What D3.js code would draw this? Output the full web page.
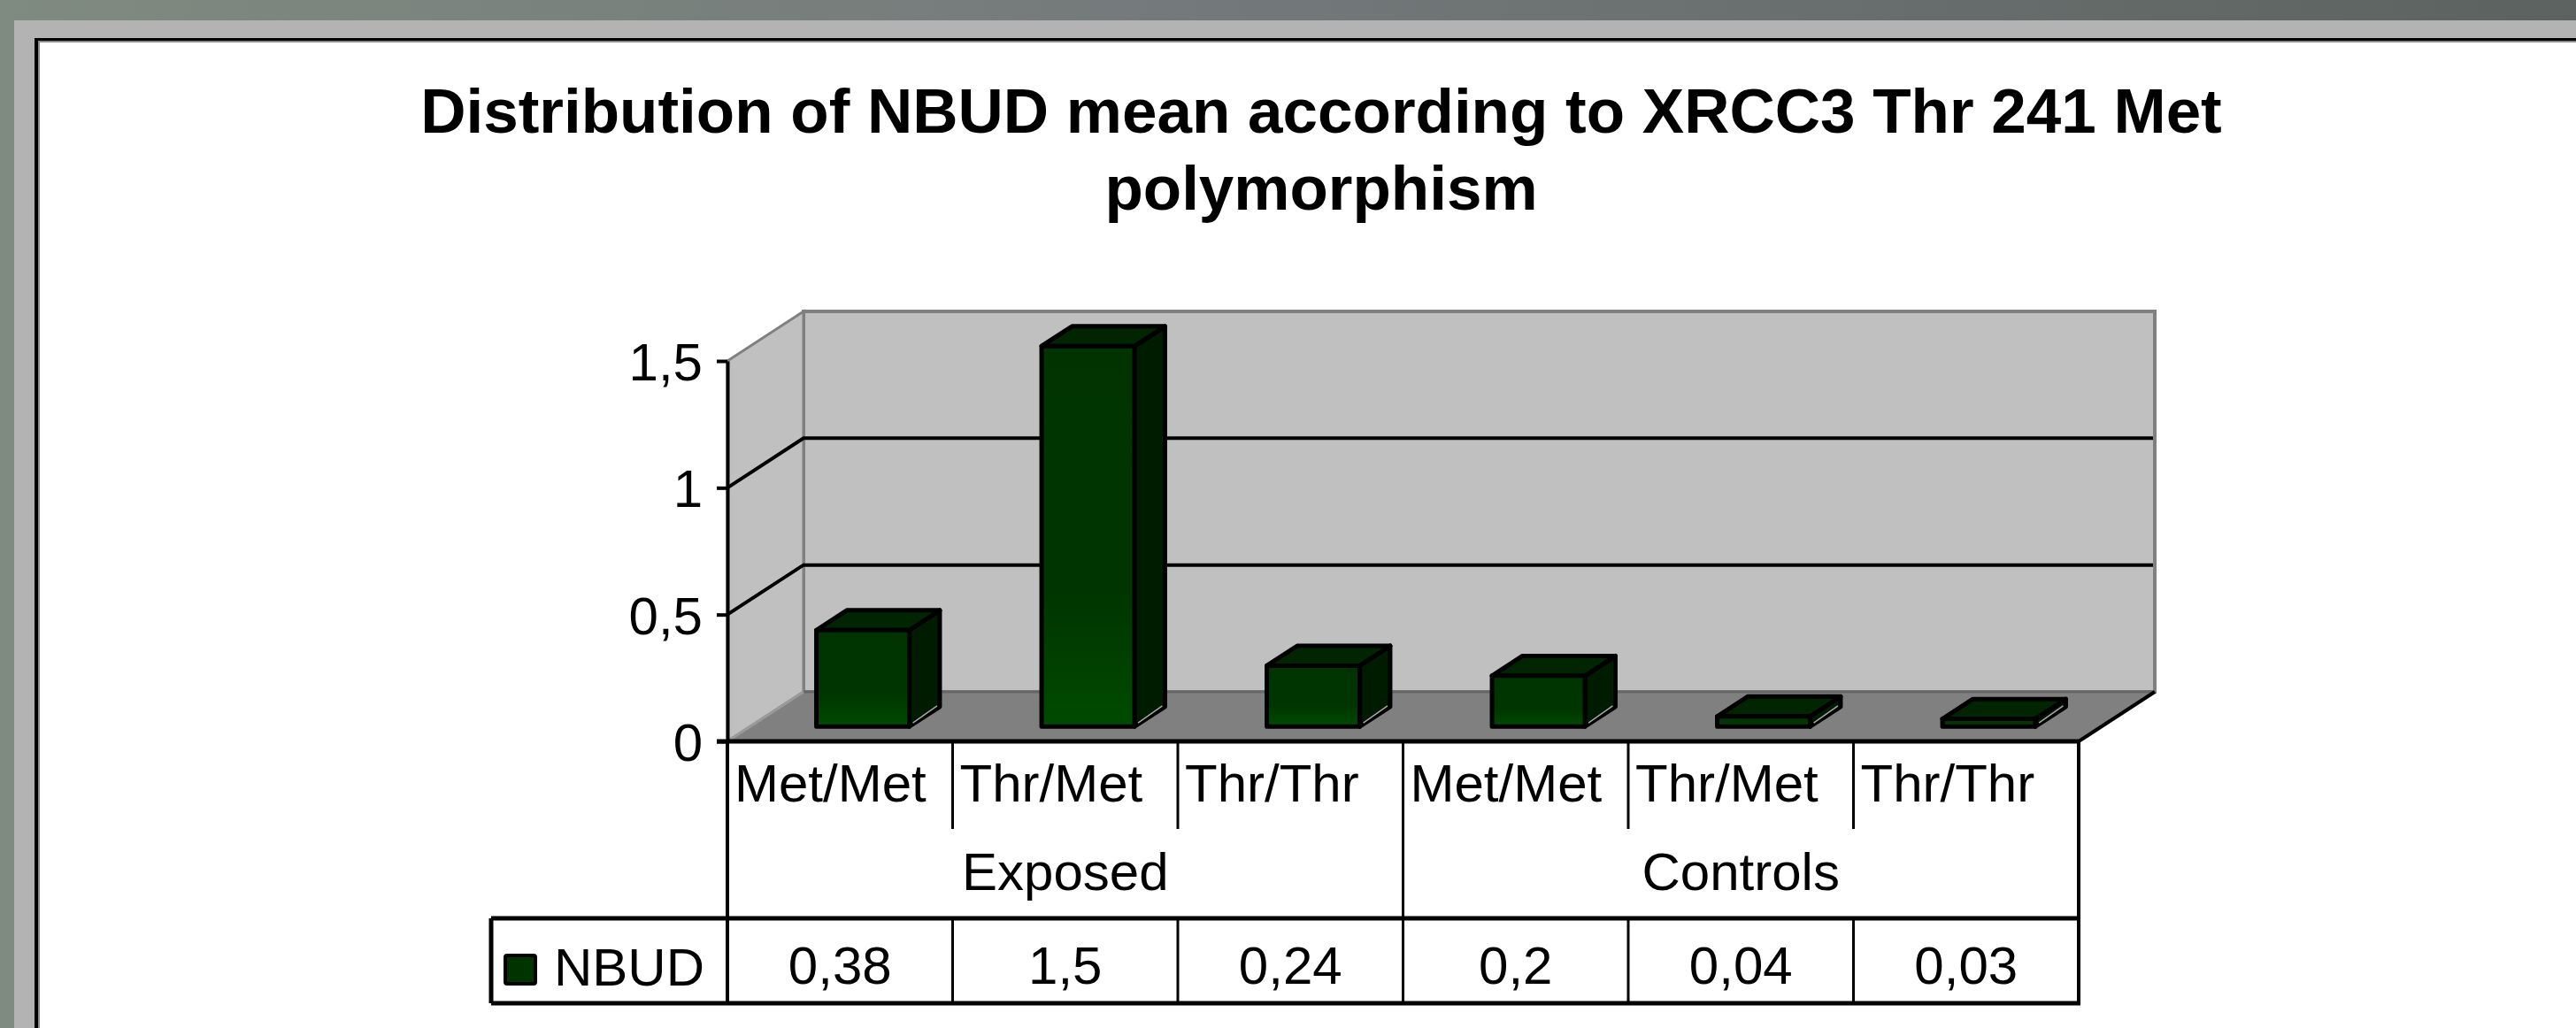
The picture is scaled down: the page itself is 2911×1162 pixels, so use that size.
<!DOCTYPE html>
<html>
<head>
<meta charset="utf-8">
<script src="https://cdn.jsdelivr.net/npm/d3@7"></script>
<style>
  html, body { margin: 0; padding: 0; background: #7f8a80; overflow: hidden; }
  svg { display: block; }
  text { font-family: "Liberation Sans", Arial, sans-serif; fill: #000; }
</style>
</head>
<body>
<svg id="chart"></svg>
<script>
const width = 2911;
const height = 1162;

// data
const categories = ["Met/Met", "Thr/Met", "Thr/Thr", "Met/Met", "Thr/Met", "Thr/Thr"];
const groups = ["Exposed", "Controls"];
const groupOf = [0, 0, 0, 1, 1, 1];
const seriesName = "NBUD";
const values = [0.38, 1.5, 0.24, 0.2, 0.04, 0.03];
const yTicks = [0, 0.5, 1, 1.5];
const titleLines = ["Distribution of NBUD mean according to XRCC3 Thr 241 Met", "polymorphism"];

const svg = d3.select("#chart").attr("width", width).attr("height", height);
const defs = svg.append("defs");

const locale = d3.formatLocale({ decimal: ",", thousands: ".", grouping: [3], currency: ["", ""] });
const fmt = locale.format(".2~f");

// page background (slide frame)
const bgGrad = defs.append("linearGradient").attr("id", "bgGrad")
  .attr("x1", "0%").attr("x2", "100%").attr("y1", "0%").attr("y2", "0%");
bgGrad.append("stop").attr("offset", "0%").attr("stop-color", "#7f8a80");
bgGrad.append("stop").attr("offset", "45%").attr("stop-color", "#747a7b");
bgGrad.append("stop").attr("offset", "100%").attr("stop-color", "#5b625f");
svg.append("rect").attr("width", width).attr("height", height).attr("fill", "url(#bgGrad)");
svg.append("rect").attr("x", 16).attr("y", 23).attr("width", width).attr("height", height).attr("fill", "#b3b3b3");
svg.append("rect").attr("x", 39).attr("y", 43).attr("width", width).attr("height", height).attr("fill", "#000");
svg.append("rect").attr("x", 43).attr("y", 46).attr("width", width).attr("height", height).attr("fill", "#8a8a8a");
svg.append("rect").attr("x", 45).attr("y", 48).attr("width", width).attr("height", height).attr("fill", "#fff");

// title
svg.append("g").selectAll("text")
  .data(titleLines)
  .join("text")
  .attr("x", 1493)
  .attr("y", (d, i) => 150 + i * 87)
  .attr("text-anchor", "middle")
  .attr("font-size", "71px")
  .attr("font-weight", "bold")
  .text(d => d);

// scales
const x = d3.scaleBand().domain(d3.range(categories.length)).range([822, 2349]);
const y = d3.scaleLinear().domain([0, 1.5]).range([838, 408]);
const DX = 86, DY = -56;          // depth of the 3D floor
const zFront = 0.3, zBack = 0.7;  // bar position in depth
const barW = 105;

const plot = svg.append("g");

// back wall + side wall
const x0 = x.range()[0], x1 = x.range()[1];
const yTop = y(1.5), yBase = y(0);
plot.append("rect")
  .attr("x", x0 + DX).attr("y", yTop + DY)
  .attr("width", x1 - x0).attr("height", yBase - yTop)
  .attr("fill", "#c0c0c0").attr("stroke", "#808080").attr("stroke-width", 4);
plot.append("path")
  .attr("d", `M${x0},${yBase}L${x0},${yTop}L${x0 + DX},${yTop + DY}L${x0 + DX},${yBase + DY}Z`)
  .attr("fill", "#c0c0c0").attr("stroke", "#808080").attr("stroke-width", 3);

// gridlines on walls
const grid = yTicks.filter(t => t > 0 && t < 1.5);
plot.append("g").selectAll("path")
  .data(grid)
  .join("path")
  .attr("d", t => `M${x0},${y(t)}L${x0 + DX},${y(t) + DY}L${x1 + DX - 2},${y(t) + DY}`)
  .attr("fill", "none").attr("stroke", "#000").attr("stroke-width", 4);

// floor
plot.append("path")
  .attr("d", `M${x0},${yBase}L${x1},${yBase}L${x1 + DX},${yBase + DY}L${x0 + DX},${yBase + DY}Z`)
  .attr("fill", "#808080");
plot.append("line")
  .attr("x1", x0 + DX).attr("x2", x1 + DX).attr("y1", yBase + DY).attr("y2", yBase + DY)
  .attr("stroke", "#666").attr("stroke-width", 3);
plot.append("line")
  .attr("x1", x0).attr("y1", yBase).attr("x2", x0 + DX).attr("y2", yBase + DY)
  .attr("stroke", "#9a9a9a").attr("stroke-width", 3);
plot.append("line")
  .attr("x1", x1).attr("y1", yBase).attr("x2", x1 + DX).attr("y2", yBase + DY)
  .attr("stroke", "#000").attr("stroke-width", 4);

// bars
const frontGrad = defs.append("linearGradient").attr("id", "frontGrad")
  .attr("x1", "0%").attr("x2", "0%").attr("y1", "0%").attr("y2", "100%");
frontGrad.append("stop").attr("offset", "0%").attr("stop-color", "#003300");
frontGrad.append("stop").attr("offset", "65%").attr("stop-color", "#003500");
frontGrad.append("stop").attr("offset", "100%").attr("stop-color", "#004a00");

const bars = plot.append("g").selectAll("g")
  .data(values)
  .join("g");

function barGeom(v, i) {
  const fx = x(i) + x.bandwidth() / 2 - barW / 2 + zFront * DX;
  const fb = y(0) + zFront * DY;
  const ft = y(v) + zFront * DY;
  const ddx = (zBack - zFront) * DX, ddy = (zBack - zFront) * DY;
  return { fx, fb, ft, ddx, ddy };
}

bars.append("path") // side
  .attr("d", (v, i) => {
    const g = barGeom(v, i);
    return `M${g.fx + barW},${g.ft}L${g.fx + barW + g.ddx},${g.ft + g.ddy}L${g.fx + barW + g.ddx},${g.fb + g.ddy}L${g.fx + barW},${g.fb}Z`;
  })
  .attr("fill", "#001c00").attr("stroke", "#000").attr("stroke-width", 5).attr("stroke-linejoin", "round");
bars.append("path") // top
  .attr("d", (v, i) => {
    const g = barGeom(v, i);
    return `M${g.fx},${g.ft}L${g.fx + barW},${g.ft}L${g.fx + barW + g.ddx},${g.ft + g.ddy}L${g.fx + g.ddx},${g.ft + g.ddy}Z`;
  })
  .attr("fill", "#002500").attr("stroke", "#000").attr("stroke-width", 5).attr("stroke-linejoin", "round");
bars.append("rect") // front
  .attr("x", (v, i) => barGeom(v, i).fx)
  .attr("y", (v, i) => barGeom(v, i).ft)
  .attr("width", barW)
  .attr("height", (v, i) => barGeom(v, i).fb - barGeom(v, i).ft)
  .attr("fill", "url(#frontGrad)").attr("stroke", "#000").attr("stroke-width", 5).attr("stroke-linejoin", "round");
bars.append("line") // light edge at the bottom of the side
  .attr("x1", (v, i) => barGeom(v, i).fx + barW + 4)
  .attr("y1", (v, i) => barGeom(v, i).fb - 4)
  .attr("x2", (v, i) => { const g = barGeom(v, i); return g.fx + barW + g.ddx - 3; })
  .attr("y2", (v, i) => { const g = barGeom(v, i); return g.fb + g.ddy - 1; })
  .attr("stroke", "#a8a8a8").attr("stroke-width", 1.5);

// y axis
const yAxis = d3.axisLeft(y)
  .tickValues(yTicks)
  .tickSize(12)
  .tickSizeOuter(0)
  .tickPadding(16)
  .tickFormat(d => fmt(d));
const yAxisG = svg.append("g")
  .attr("transform", `translate(${x0},0)`)
  .call(yAxis);
yAxisG.select(".domain").attr("stroke", "#000").attr("stroke-width", 4);
yAxisG.selectAll(".tick line").attr("stroke", "#000").attr("stroke-width", 4);
yAxisG.selectAll(".tick text")
  .attr("font-size", "60px")
  .attr("font-family", "Liberation Sans, Arial, sans-serif")
  .attr("fill", "#000")
  .attr("dy", "0.36em");

// floor front edge
svg.append("line")
  .attr("x1", x0 - 12).attr("x2", x1).attr("y1", yBase).attr("y2", yBase)
  .attr("stroke", "#000").attr("stroke-width", 5);

// data table
const rowCat = 937, rowGroup = 1038, rowBottom = 1134;
const legendLeft = 555;
const table = svg.append("g").attr("stroke", "#000").attr("fill", "none");

// verticals between categories
table.selectAll(".vcat")
  .data(d3.range(1, categories.length))
  .join("line")
  .attr("x1", i => x(i)).attr("x2", i => x(i))
  .attr("y1", yBase).attr("y2", i => (groupOf[i] !== groupOf[i - 1] ? rowBottom : rowCat))
  .attr("stroke-width", 3);
// value row verticals
table.selectAll(".vval")
  .data(d3.range(1, categories.length))
  .join("line")
  .attr("x1", i => x(i)).attr("x2", i => x(i))
  .attr("y1", rowGroup).attr("y2", rowBottom)
  .attr("stroke-width", 3);
// outer verticals
table.append("line").attr("x1", x0).attr("x2", x0).attr("y1", yBase).attr("y2", rowBottom).attr("stroke-width", 4);
table.append("line").attr("x1", x1).attr("x2", x1).attr("y1", yBase).attr("y2", rowBottom).attr("stroke-width", 4);
table.append("line").attr("x1", legendLeft).attr("x2", legendLeft).attr("y1", rowGroup).attr("y2", rowBottom).attr("stroke-width", 5);
// horizontals
table.append("line").attr("x1", legendLeft).attr("x2", x1 + 2).attr("y1", rowGroup).attr("y2", rowGroup).attr("stroke-width", 5);
table.append("line").attr("x1", legendLeft).attr("x2", x1 + 2).attr("y1", rowBottom).attr("y2", rowBottom).attr("stroke-width", 5);

const labelSize = "60px";
// category labels
svg.append("g").selectAll("text")
  .data(categories)
  .join("text")
  .attr("x", (d, i) => x(i) + 8)
  .attr("y", 906)
  .attr("font-size", labelSize)
  .text(d => d);

// group labels
svg.append("g").selectAll("text")
  .data(groups)
  .join("text")
  .attr("x", (d, gi) => {
    const idx = d3.range(categories.length).filter(i => groupOf[i] === gi);
    return (x(idx[0]) + x(idx[idx.length - 1]) + x.bandwidth()) / 2;
  })
  .attr("y", 1006)
  .attr("text-anchor", "middle")
  .attr("font-size", labelSize)
  .text(d => d);

// values row
svg.append("g").selectAll("text")
  .data(values)
  .join("text")
  .attr("x", (d, i) => x(i) + x.bandwidth() / 2)
  .attr("y", 1112)
  .attr("text-anchor", "middle")
  .attr("font-size", labelSize)
  .text(d => fmt(d));

// legend key
svg.append("rect")
  .attr("x", 571).attr("y", 1080).attr("width", 34).attr("height", 32)
  .attr("rx", 2)
  .attr("fill", "#003300").attr("stroke", "#000").attr("stroke-width", 4);
svg.append("text")
  .attr("x", 626).attr("y", 1114)
  .attr("font-size", labelSize)
  .text(seriesName);
</script>
</body>
</html>
